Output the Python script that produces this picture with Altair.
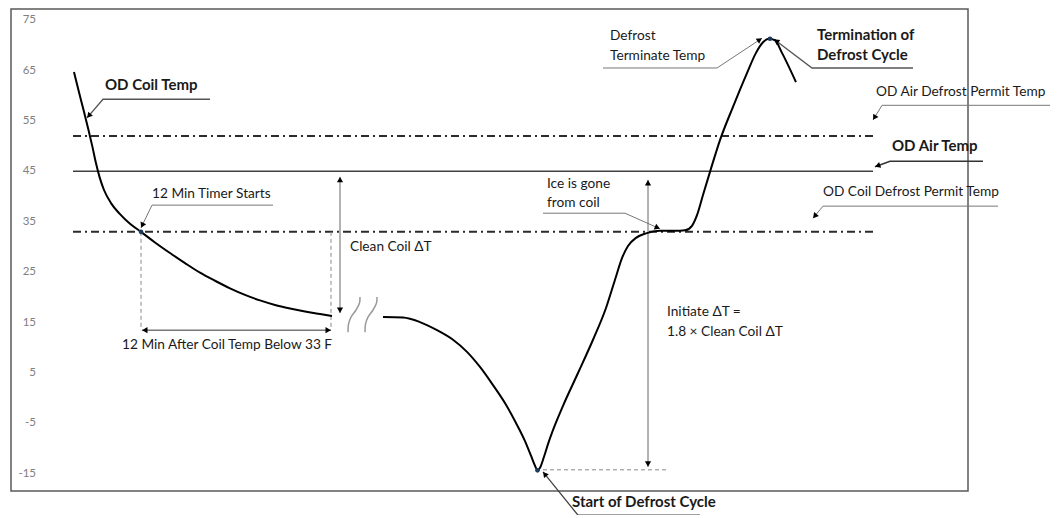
import altair as alt
import pandas as pd
import numpy as np

# ---------------- data (x = time, arbitrary units; y = temperature, F) ----------------
coil1_t = [6.3, 6.8, 7.3, 7.75, 8.15, 8.5, 8.85, 9.3, 10.0, 10.9, 11.9, 13.0, 14.4, 15.9, 17.4,
           18.9, 20.4, 21.9, 23.4, 24.9, 26.4, 27.9, 29.4, 30.9, 32.1]
coil1_temp = [64.7, 60.7, 56.8, 53.2, 49.8, 46.6, 43.9, 41.3, 38.7, 36.5, 34.6, 33.0, 30.9, 28.8, 26.8,
              24.9, 23.3, 21.8, 20.5, 19.4, 18.5, 17.8, 17.2, 16.7, 16.3]

coil2_t = [37.2, 39.2, 40.9, 42.6, 44.2, 45.6, 46.9, 48.2, 49.5, 50.5, 51.4, 52.0, 52.4, 52.65,
           52.9, 53.3, 53.7, 54.4, 55.2, 56.7, 58.2, 59.5, 60.4, 61.1, 61.7, 62.5, 63.5, 64.9,
           66.4, 67.4, 68.1, 68.6, 69.2, 69.9, 70.9, 72.2, 73.6, 74.5, 75.2, 75.8, 76.4, 77.1, 78.5]
coil2_temp = [16.1, 16.0, 15.1, 13.5, 11.6, 9.2, 6.2, 2.6, -1.3, -4.9, -8.5, -11.4, -13.4, -14.3,
              -13.8, -11.6, -9.1, -5.3, -1.5, 5.0, 11.6, 17.9, 23.5, 27.8, 30.2, 31.8, 32.7, 33.2,
              33.2, 33.3, 34.2, 36.3, 40.3, 44.9, 51.2, 57.8, 64.5, 68.5, 70.6, 71.3, 71.0, 68.5, 62.7]

break_a_t = [33.7, 33.75, 34.0, 34.5, 34.85, 34.9]
break_b_t = [35.4, 35.45, 35.7, 36.2, 36.55, 36.6]
break_temp = [13.1, 14.7, 16.1, 17.5, 18.9, 20.1]

ref_names = ["OD Air Defrost Permit Temp", "OD Air Temp", "OD Coil Defrost Permit Temp"]
ref_temp = [52, 45, 33]
ref_t_start = [6.2, 6.2, 6.2]
ref_t_end = [86.4, 86.2, 86.4]

dot_t = [13.0, 52.65, 75.9]
dot_temp = [33.0, -14.3, 71.3]

guide_t1 = [13.0, 32.0, 53.2]
guide_y1 = [33.0, 33.0, -14.2]
guide_t2 = [13.0, 32.0, 65.6]
guide_y2 = [13.5, 13.5, -14.2]

dbl_t1 = [13.1, 32.9, 63.7]
dbl_y1 = [13.5, 43.9, 43.3]
dbl_t2 = [32.0, 32.9, 63.7]
dbl_y2 = [13.5, 16.9, -13.6]
dbl_color = ["#333333", "#666666", "#666666"]

leader_end_t = [19.9, 26.2, 53.2, 59.2, 90.2, 103.9, 97.2, 98.7, 68.9]
leader_knee_t = [9.2, 14.1, 61.4, 70.6, 80.1, 87.1, 87.9, 81.2, 56.7]
leader_y = [59.3, 38.3, 36.7, 65.5, 65.5, 58.1, 47.0, 38.1, -23.2]
leader_tip_t = [7.6, 13.0, 64.9, 75.1, 76.3, 86.2, 86.4, 80.2, 53.2]
leader_tip_temp = [55.6, 33.8, 33.6, 71.4, 71.2, 55.2, 45.9, 35.7, -14.6]
leader_color = ["#555555", "#777777", "#777777", "#777777", "#555555", "#777777", "#333333", "#777777", "#444444"]
leader_width = [1.3, 1.0, 1.0, 1.0, 1.3, 1.0, 1.6, 1.0, 1.3]

bold_text = ["OD Coil Temp", "Termination of", "Defrost Cycle", "OD Air Temp", "Start of Defrost Cycle"]
bold_t = [9.4, 80.6, 80.6, 88.1, 56.1]
bold_temp = [62.1, 72.0, 68.1, 50.0, -20.6]

reg_text = ["12 Min Timer Starts", "12 Min After Coil Temp Below 33 F", "Clean Coil \u0394T",
            "Initiate \u0394T =", "1.8 \u00d7 Clean Coil \u0394T", "Ice is gone", "from coil",
            "Defrost", "Terminate Temp", "OD Air Defrost Permit Temp", "OD Coil Defrost Permit Temp"]
reg_t = [14.1, 11.1, 33.9, 65.6, 65.6, 53.6, 53.6, 59.9, 59.9, 86.5, 81.2]
reg_temp = [40.5, 10.6, 30.0, 17.1, 13.1, 42.5, 38.7, 71.8, 67.9, 60.7, 40.9]

y_ticks = [75, 65, 55, 45, 35, 25, 15, 5, -5, -15]
y_label_t = 2.5

# ---------------- geometry helpers ----------------
X_DOMAIN = [0, 95.7]
Y_DOMAIN = [-18.4, 77.2]
W, H = 957, 482
PX_X = W / (X_DOMAIN[1] - X_DOMAIN[0])
PX_Y = H / (Y_DOMAIN[1] - Y_DOMAIN[0])
FONT = "Lato"

xs = alt.Scale(domain=X_DOMAIN, nice=False, zero=False)
ys = alt.Scale(domain=Y_DOMAIN, nice=False, zero=False)
X = lambda f="t": alt.X(f"{f}:Q", scale=xs, axis=None)
Y = lambda f="temp": alt.Y(f"{f}:Q", scale=ys, axis=None)


def head(tx, ty, px, py, back=2.8):
    dx = (tx - px) * PX_X
    dy = -(ty - py) * PX_Y
    n = np.hypot(dx, dy)
    ux, uy = dx / n, dy / n
    ang = np.degrees(np.arctan2(dx, -dy)) % 360
    return dict(t=tx - ux * back / PX_X, temp=ty + uy * back / PX_Y, ang=float(ang))


curve = pd.concat([
    pd.DataFrame(dict(t=coil1_t, temp=coil1_temp, seg="a", i=range(len(coil1_t)))),
    pd.DataFrame(dict(t=coil2_t, temp=coil2_temp, seg="b", i=range(len(coil2_t)))),
])
breaks = pd.concat([
    pd.DataFrame(dict(t=break_a_t, temp=break_temp, seg="a", i=range(len(break_temp)))),
    pd.DataFrame(dict(t=break_b_t, temp=break_temp, seg="b", i=range(len(break_temp)))),
])
refs = pd.DataFrame(dict(name=ref_names, temp=ref_temp, t1=ref_t_start, t2=ref_t_end))
dots = pd.DataFrame(dict(t=dot_t, temp=dot_temp))
guides = pd.DataFrame(dict(t1=guide_t1, y1=guide_y1, t2=guide_t2, y2=guide_y2))

rows, heads = [], []
for k in range(len(leader_end_t)):
    pts = [(leader_end_t[k], leader_y[k]), (leader_knee_t[k], leader_y[k]),
           (leader_tip_t[k], leader_tip_temp[k])]
    for j, (a, b) in enumerate(pts):
        rows.append(dict(id=f"L{k}", i=j, t=a, temp=b, c=leader_color[k], w=leader_width[k]))
    heads.append(head(pts[2][0], pts[2][1], pts[1][0], pts[1][1]))
for k in range(len(dbl_t1)):
    rows.append(dict(id=f"D{k}", i=0, t=dbl_t1[k], temp=dbl_y1[k], c=dbl_color[k], w=1.0))
    rows.append(dict(id=f"D{k}", i=1, t=dbl_t2[k], temp=dbl_y2[k], c=dbl_color[k], w=1.0))
    heads.append(head(dbl_t1[k], dbl_y1[k], dbl_t2[k], dbl_y2[k]))
    heads.append(head(dbl_t2[k], dbl_y2[k], dbl_t1[k], dbl_y1[k]))
polys = pd.DataFrame(rows)
heads = pd.DataFrame(heads)

bold = pd.DataFrame(dict(text=bold_text, t=bold_t, temp=bold_temp))
reg = pd.DataFrame(dict(text=reg_text, t=reg_t, temp=reg_temp))
ticks = pd.DataFrame(dict(temp=y_ticks, label=[str(v) for v in y_ticks], t=y_label_t))

# ---------------- layers ----------------
tick_layer = alt.Chart(ticks).mark_text(align="right", baseline="middle", font=FONT, fontSize=11.5,
                                        color="#808080").encode(x=X(), y=Y(), text="label:N")

ref_dd = alt.Chart(refs).transform_filter(alt.datum.name != "OD Air Temp").mark_rule(
    color="#2b2b2b", strokeWidth=2, strokeDash=[8, 4, 2, 4]).encode(x=X("t1"), x2="t2", y=Y())
ref_solid = alt.Chart(refs).transform_filter(alt.datum.name == "OD Air Temp").mark_rule(
    color="#404040", strokeWidth=1.5).encode(x=X("t1"), x2="t2", y=Y())

guide_layer = alt.Chart(guides).mark_rule(color="#8a8a8a", strokeWidth=1, strokeDash=[4, 3]).encode(
    x=X("t1"), x2="t2", y=Y("y1"), y2="y2")

poly_layer = alt.Chart(polys).mark_line().encode(
    x=X(), y=Y(), detail="id:N", order="i:Q",
    color=alt.Color("c:N", scale=None), strokeWidth=alt.StrokeWidth("w:Q", scale=None))

head_layer = alt.Chart(heads).mark_point(shape="triangle-up", filled=True, color="black",
                                         size=38, opacity=1).encode(
    x=X(), y=Y(), angle=alt.Angle("ang:Q", scale=None))

curve_layer = alt.Chart(curve).mark_line(color="black", strokeWidth=2, interpolate="monotone").encode(
    x=X(), y=Y(), detail="seg:N", order="i:Q")

break_layer = alt.Chart(breaks).mark_line(color="#9a9a9a", strokeWidth=1.5,
                                          interpolate="catmull-rom").encode(
    x=X(), y=Y(), detail="seg:N", order="i:Q")

dot_layer = alt.Chart(dots).mark_circle(color="#1f3a5f", size=22, opacity=1).encode(x=X(), y=Y())

bold_layer = alt.Chart(bold).mark_text(align="left", baseline="middle", font=FONT, fontSize=15,
                                       fontWeight="bold", color="#1a1a1a").encode(x=X(), y=Y(), text="text:N")
reg_layer = alt.Chart(reg).mark_text(align="left", baseline="middle", font=FONT, fontSize=13.7,
                                     color="#1a1a1a").encode(x=X(), y=Y(), text="text:N")

chart = alt.layer(
    tick_layer, ref_dd, ref_solid, guide_layer, poly_layer, curve_layer, break_layer,
    head_layer, dot_layer, bold_layer, reg_layer
).properties(
    width=W, height=H,
    padding={"left": 3, "top": 1, "right": 83, "bottom": 24},
    autosize=alt.AutoSizeParams(type="none"),
    background="white",
).configure_view(stroke="#595959", strokeWidth=1.5)

chart.save("out.html", embed_options={"renderer": "svg", "actions": False})
